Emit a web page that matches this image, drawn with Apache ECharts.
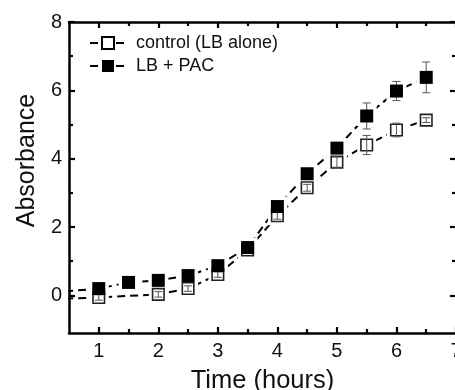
<!DOCTYPE html>
<html>
<head>
<meta charset="utf-8">
<script src="https://cdn.jsdelivr.net/npm/echarts@6/dist/echarts.min.js"></script>
<style>html,body{margin:0;padding:0;background:#fff}#c{width:455px;height:390px}</style>
</head>
<body>
<div id="c"></div>
<script>
// ---- data ----
const timeControl = [1, 2, 2.5, 3, 3.5, 4, 4.5, 5, 5.5, 6, 6.5];
const control     = [-0.06, 0.03, 0.2, 0.61, 1.33, 2.33, 3.15, 3.9, 4.4, 4.84, 5.13];
const controlErr  = [0.08, 0.08, 0.08, 0.08, 0.06, 0.1, 0.1, 0.15, 0.28, 0.2, 0.07];
const timePac     = [1, 1.5, 2, 2.5, 3, 3.5, 4, 4.5, 5, 5.5, 6, 6.5];
const pac         = [0.2, 0.38, 0.44, 0.58, 0.87, 1.4, 2.6, 3.56, 4.31, 5.25, 5.98, 6.38];
const pacErr      = [0.05, 0.05, 0.05, 0.05, 0.05, 0.05, 0.05, 0.1, 0.12, 0.38, 0.28, 0.45];
// line continues off the left edge of the plot (clipped)
const leadTime = 0;
const leadControl = -0.12;
const leadPac = 0.05;
const xMajorTicks = [1, 2, 3, 4, 5, 6, 7];
const xMinorTicks = [1.5, 2.5, 3.5, 4.5, 5.5, 6.5];
const yMajorTicks = [0, 2, 4, 6, 8];
const yMinorTicks = [1, 3, 5, 7];
const seriesNames = ['control (LB alone)', 'LB + PAC'];

const FONT = 'Arial, "Liberation Sans", sans-serif';
const X_MIN = 0.5, X_MAX = 7, Y_MIN = -1.1, Y_MAX = 8;

function pts(t, v) { return t.map((x, i) => [x, v[i]]); }
function errPts(t, v, e) { return t.map((x, i) => [x, v[i], e[i]]); }

function xAxisDef(pos, ticks, len, showLine, labels, name) {
  return {
    type: 'value', position: pos, min: X_MIN, max: X_MAX,
    axisLine: { show: showLine, onZero: false, lineStyle: { color: '#000', width: 2.5 } },
    axisTick: { show: true, inside: true, customValues: ticks, length: len, lineStyle: { color: '#000', width: 2.2 } },
    axisLabel: labels ? { show: true, customValues: ticks, color: '#111', fontSize: 20, fontFamily: FONT, margin: 8 } : { show: false },
    splitLine: { show: false },
    name: name || '', nameLocation: 'middle', nameGap: 35,
    nameTextStyle: { fontSize: 25.5, fontFamily: FONT, color: '#111' }
  };
}
function yAxisDef(pos, ticks, len, showLine, labels, name) {
  return {
    type: 'value', position: pos, min: Y_MIN, max: Y_MAX,
    axisLine: { show: showLine, onZero: false, lineStyle: { color: '#000', width: 2.5 } },
    axisTick: { show: true, inside: true, customValues: ticks, length: len, lineStyle: { color: '#000', width: 2.2 } },
    axisLabel: labels ? { show: true, customValues: ticks, color: '#111', fontSize: 20, fontFamily: FONT, margin: 7 } : { show: false },
    splitLine: { show: false },
    name: name || '', nameLocation: 'middle', nameGap: 29,
    nameTextStyle: { fontSize: 25, fontFamily: FONT, color: '#111', padding: [0, 0, 0, 34] }
  };
}

function errRender(params, api) {
  const x = api.value(0), y = api.value(1), e = api.value(2);
  const top = api.coord([x, y + e]), bot = api.coord([x, y - e]);
  const hw = 4;
  const st = { stroke: '#555', lineWidth: 1 };
  return { type: 'group', children: [
    { type: 'line', shape: { x1: top[0], y1: top[1], x2: bot[0], y2: bot[1] }, style: st },
    { type: 'line', shape: { x1: top[0] - hw, y1: top[1], x2: top[0] + hw, y2: top[1] }, style: st },
    { type: 'line', shape: { x1: bot[0] - hw, y1: bot[1], x2: bot[0] + hw, y2: bot[1] }, style: st }
  ]};
}

const dash = { color: '#000', width: 2, type: [8, 5] };

const option = {
  animation: false,
  backgroundColor: '#fff',
  grid: { left: 69, right: -1, top: 22, bottom: 57, containLabel: false, outerBoundsMode: 'none' },
  legend: {
    left: 84, top: 29, orient: 'vertical', itemGap: 5,
    itemWidth: 36, itemHeight: 15,
    textStyle: { fontSize: 18, fontFamily: FONT, color: '#111', padding: [0, 0, 0, 5] },
    data: seriesNames
  },
  xAxis: [
    xAxisDef('bottom', xMajorTicks, 6, true, true, 'Time (hours)'),
    xAxisDef('bottom', xMinorTicks, 4, false, false),
    xAxisDef('top', xMajorTicks, 6, true, false),
    xAxisDef('top', xMinorTicks, 4, false, false)
  ],
  yAxis: [
    yAxisDef('left', yMajorTicks, 6, true, true, 'Absorbance'),
    yAxisDef('left', yMinorTicks, 4, false, false),
    yAxisDef('right', yMajorTicks, 6, true, false),
    yAxisDef('right', yMinorTicks, 4, false, false)
  ],
  series: [
    { name: seriesNames[0], type: 'line', z: 1, clip: true,
      data: [[leadTime, leadControl]].concat(pts(timeControl, control)),
      showSymbol: false, symbol: 'rect', symbolSize: 12,
      itemStyle: { color: '#fff', borderColor: '#000', borderWidth: 1.5 },
      lineStyle: dash },
    { name: seriesNames[1], type: 'line', z: 1, clip: true,
      data: [[leadTime, leadPac]].concat(pts(timePac, pac)),
      showSymbol: false, symbol: 'rect', symbolSize: 13,
      itemStyle: { color: '#000', borderColor: '#000', borderWidth: 0 },
      lineStyle: dash },
    // white gaps around markers
    { type: 'scatter', z: 2, silent: true, symbol: 'rect', symbolSize: 19,
      data: pts(timeControl, control), itemStyle: { color: '#fff', opacity: 1 } },
    { type: 'scatter', z: 2, silent: true, symbol: 'rect', symbolSize: 20,
      data: pts(timePac, pac), itemStyle: { color: '#fff', opacity: 1 } },
    // control markers
    { type: 'scatter', z: 3, symbol: 'rect', symbolSize: 11.5,
      data: pts(timeControl, control),
      itemStyle: { color: '#fff', borderColor: '#222', borderWidth: 1.6, opacity: 1 } },
    { type: 'custom', z: 4, renderItem: errRender, data: errPts(timeControl, control, controlErr),
      encode: { x: 0, y: 1 } },
    { type: 'custom', z: 5, renderItem: errRender, data: errPts(timePac, pac, pacErr),
      encode: { x: 0, y: 1 } },
    { type: 'scatter', z: 6, symbol: 'rect', symbolSize: 13,
      data: pts(timePac, pac),
      itemStyle: { color: '#000', opacity: 1 } }
  ]
};

const chart = echarts.init(document.getElementById('c'), null, { renderer: 'canvas' });
chart.setOption(option);
</script>
</body>
</html>
